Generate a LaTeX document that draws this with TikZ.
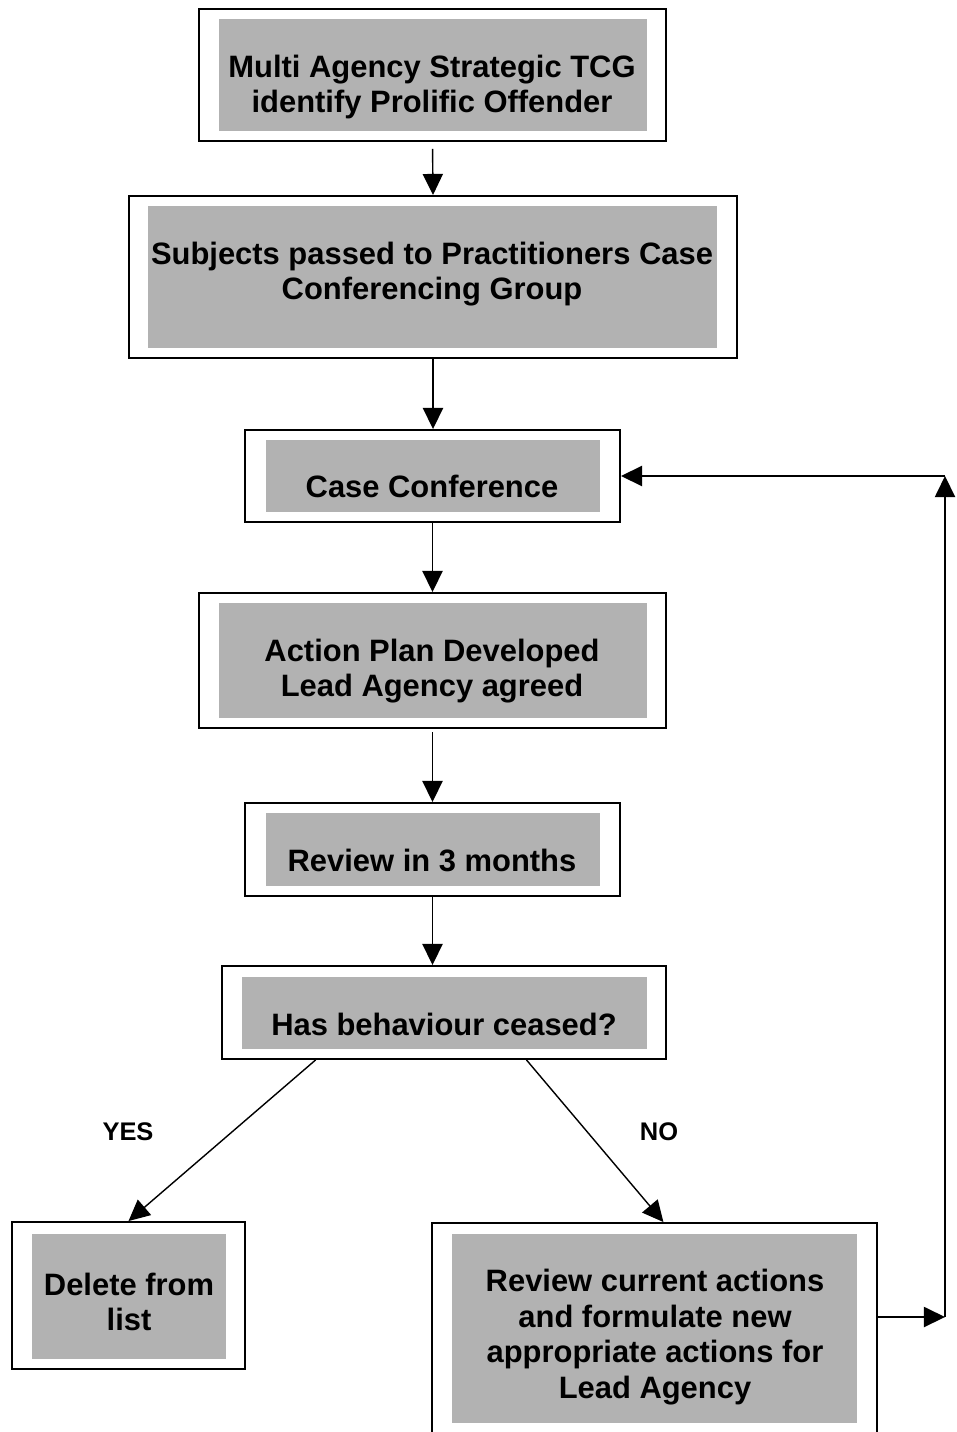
\documentclass[tikz,border=0pt]{standalone}
\usepackage{fontspec}
\setmainfont{Liberation Sans}
\usepackage{tikz}
\usetikzlibrary{arrows.meta,positioning,fit,calc}
\definecolor{boxgray}{gray}{0.70}
\tikzset{frame node/.style={draw, line width=1.1pt, inner sep=0pt}}
\tikzset{shade node/.style={fill=boxgray, inner sep=0pt}}
\tikzset{text node/.style={font=\bfseries\fontsize{17.6}{20.4}\selectfont, align=center}}
\tikzset{answer node/.style={font=\bfseries\fontsize{14.5}{17}\selectfont}}
\tikzset{flow edge/.style={draw, line width=0.8pt, -{Triangle[length=12pt, width=11.5pt]}}}

\begin{document}
\begin{tikzpicture}
      [x=0.02cm, y=-0.02cm]
      \path [use as bounding box, clip] (0,0) rectangle (956,1432);

      \node [frame node, fit={(199,9) (666,141)}]     (tcg)     {};
      \node [shade node, fit={(219,19) (647,131)}]    (tcgin)   {};
      \node [text node]  (tcgtxt)  at (432,87)   {Multi Agency Strategic TCG\\identify Prolific Offender};

      \node [frame node, fit={(129,196) (737,358)}]   (subj)    {};
      \node [shade node, fit={(148,206) (717,348)}]   (subjin)  {};
      \node [text node]  (subjtxt) at (432,274)  {Subjects passed to Practitioners Case\\Conferencing Group};

      \node [frame node, fit={(245,430) (620,522)}]   (conf)    {};
      \node [shade node, fit={(266,440) (600,512)}]   (confin)  {};
      \node [text node]  (conftxt) at (432,486)  {Case Conference};

      \node [frame node, fit={(199,593) (666,728)}]   (plan)    {};
      \node [shade node, fit={(219,603) (647,718)}]   (planin)  {};
      \node [text node]  (plantxt) at (432,671)  {Action Plan Developed\\Lead Agency agreed};

      \node [frame node, fit={(245,803) (620,896)}]   (review)  {};
      \node [shade node, fit={(266,813) (600,886)}]   (reviewin){};
      \node [text node]  (reviewtxt) at (432,860) {Review in 3 months};

      \node [frame node, fit={(222,966) (666,1059)}]  (ceased)  {};
      \node [shade node, fit={(242,977) (647,1049)}]  (ceasedin){};
      \node [text node]  (ceasedtxt) at (444,1024) {Has behaviour ceased?};

      \node [frame node, fit={(12,1222) (245,1369)}]  (delete)  {};
      \node [shade node, fit={(32,1234) (226,1359)}]  (deletein){};
      \node [text node]  (deletetxt) at (129,1302) {Delete from\\list};

      \node [frame node, fit={(432,1223) (877,1445)}] (revise)  {};
      \node [shade node, fit={(452,1234) (857,1423)}] (revisein){};
      \node [text node]  (revisetxt) at (655,1337) {Review current actions\\and formulate new\\appropriate actions for\\Lead Agency};

      \node [answer node] (yes) at (128,1132) {YES};
      \node [answer node] (no)  at (659,1132) {NO};

      \coordinate (loopfoot) at (945,1317);
      \coordinate (loophead) at (945,476);

      \draw [flow edge, shorten <=4pt] (tcg.south) -- (subj.north);
      \draw [flow edge]  (subj.south)   -- (subj.south |- conf.north);
      \draw [flow edge]  (conf.south)   -- (plan.north);
      \draw [flow edge, shorten <=2pt]  (plan.south)   -- (review.north);
      \draw [flow edge]  (review.south) -- (review.south |- ceased.north);
      \draw [flow edge]  ($(ceased.south west)!0.212!(ceased.south east)$) -- (delete.north);
      \draw [flow edge]  ($(ceased.south west)!0.685!(ceased.south east)$) -- ($(revise.north west)!0.52!(revise.north east)$);
      \draw [flow edge]  (revise.east |- loopfoot) -- (loopfoot);
      \draw [flow edge]  (loopfoot) -- (loophead);
      \draw [flow edge]  (loophead) -- (conf.east);
    \end{tikzpicture}
\end{document}
